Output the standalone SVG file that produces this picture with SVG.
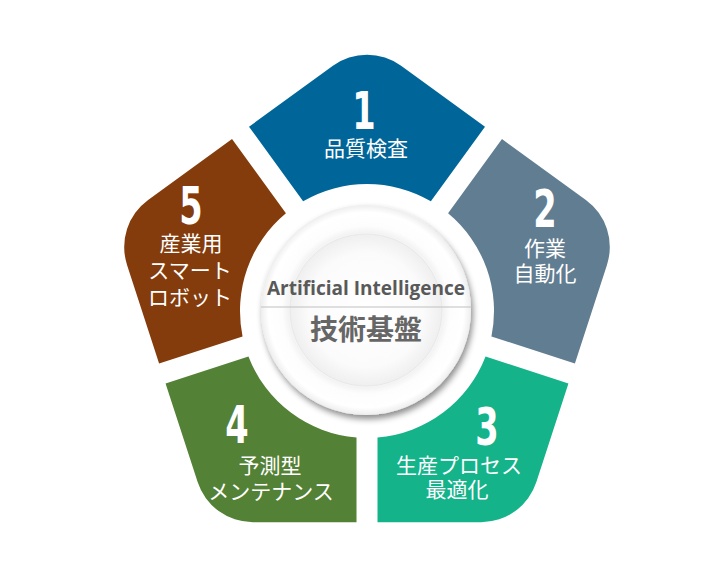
<svg xmlns="http://www.w3.org/2000/svg" width="715" height="574" viewBox="0 0 715 574">
  <style>
    .seg { stroke: none; }
    .num { font-family: "DejaVu Sans Condensed", "DejaVu Sans", sans-serif; font-stretch: condensed; font-weight: 700; font-size: 52px; fill: #ffffff; text-anchor: middle; }
    .lbl { font-family: "Noto Sans CJK JP", "Noto Sans", sans-serif; font-weight: 400; font-size: 21px; fill: #ffffff; text-anchor: middle; }
    .en { font-family: "Open Sans", "Liberation Sans", sans-serif; font-weight: 700; font-size: 19px; fill: #595959; text-anchor: middle; }
    .jp { font-family: "Noto Sans CJK JP", sans-serif; font-weight: 700; font-size: 28px; fill: #666666; text-anchor: middle; }
  </style>
  <defs>
    <filter id="shadow" x="-20%" y="-20%" width="140%" height="140%">
      <feDropShadow dx="2" dy="4" stdDeviation="3" flood-color="#000000" flood-opacity="0.45"/>
    </filter>
    <radialGradient id="plate" cx="0.5" cy="0.5" r="0.5">
      <stop offset="0" stop-color="#ffffff"/>
      <stop offset="0.70" stop-color="#ffffff"/>
      <stop offset="0.74" stop-color="#f3f3f3"/>
      <stop offset="0.80" stop-color="#fdfdfd"/>
      <stop offset="0.93" stop-color="#ffffff"/>
      <stop offset="1" stop-color="#eeeeee"/>
    </radialGradient>
    <radialGradient id="inner" cx="0.5" cy="0.5" r="0.5">
      <stop offset="0" stop-color="#ffffff"/>
      <stop offset="0.75" stop-color="#fbfbfb"/>
      <stop offset="1" stop-color="#efefef"/>
    </radialGradient>
  </defs>
  <rect width="715" height="574" fill="#ffffff"/>

  <g id="node-1">
    <path class="seg" fill="#006699" d="M 249.00 126.73 L 332.91 65.77 A 58 58 0 0 1 401.09 65.77 L 485.00 126.73 L 430.87 201.23 A 127 127 0 0 0 303.13 201.23 Z"/>
    <text class="num" transform="translate(364 129) scale(0.72 1)">1</text>
    <text class="lbl" x="366" y="156">品質検査</text>
  </g>

  <g id="node-2">
    <path class="seg" fill="#617D91" d="M 501.98 139.07 L 585.89 200.03 A 58 58 0 0 1 606.96 264.88 L 574.91 363.51 L 491.44 336.39 A 127 127 0 0 0 448.08 213.26 Z"/>
    <text class="num" transform="translate(545 227) scale(0.72 1)">2</text>
    <text class="lbl" x="545" y="256">作業</text>
    <text class="lbl" x="545" y="281">自動化</text>
  </g>

  <g id="node-3">
    <path class="seg" fill="#15B38A" d="M 568.43 383.49 L 536.37 482.12 A 58 58 0 0 1 481.21 522.20 L 377.5 522.20 L 377.5 437.57 A 127 127 0 0 0 485.55 356.56 Z"/>
    <text class="num" transform="translate(487 445) scale(0.72 1)">3</text>
    <text class="lbl" x="459" y="473">生産プロセス</text>
    <text class="lbl" x="457" y="497">最適化</text>
  </g>

  <g id="node-4">
    <path class="seg" fill="#538135" d="M 356.5 522.20 L 252.79 522.20 A 58 58 0 0 1 197.63 482.12 L 165.57 383.49 L 248.45 356.56 A 127 127 0 0 0 356.5 437.57 Z"/>
    <text class="num" transform="translate(237 443) scale(0.72 1)">4</text>
    <text class="lbl" x="270" y="473">予測型</text>
    <text class="lbl" x="271" y="499">メンテナンス</text>
  </g>

  <g id="node-5">
    <path class="seg" fill="#843C0C" d="M 159.09 363.51 L 127.04 264.88 A 58 58 0 0 1 148.11 200.03 L 232.02 139.07 L 285.92 213.26 A 127 127 0 0 0 242.56 336.39 Z"/>
    <text class="num" transform="translate(191 224) scale(0.72 1)">5</text>
    <text class="lbl" x="191" y="251">産業用</text>
    <text class="lbl" x="190" y="278">スマート</text>
    <text class="lbl" x="190" y="305">ロボット</text>
  </g>

  <g id="center">
    <circle cx="366" cy="310" r="105" fill="url(#plate)" filter="url(#shadow)"/>
    <circle cx="366" cy="310" r="76" fill="url(#inner)" stroke="#e8e8e8" stroke-width="1"/>
    <text class="en" x="366" y="295" textLength="198" lengthAdjust="spacingAndGlyphs">Artificial Intelligence</text>
    <line x1="261" y1="307" x2="472" y2="307" stroke="#bfbfbf" stroke-width="1.2"/>
    <text class="jp" x="366" y="340">技術基盤</text>
  </g>

  <g id="connectors"></g>
</svg>
